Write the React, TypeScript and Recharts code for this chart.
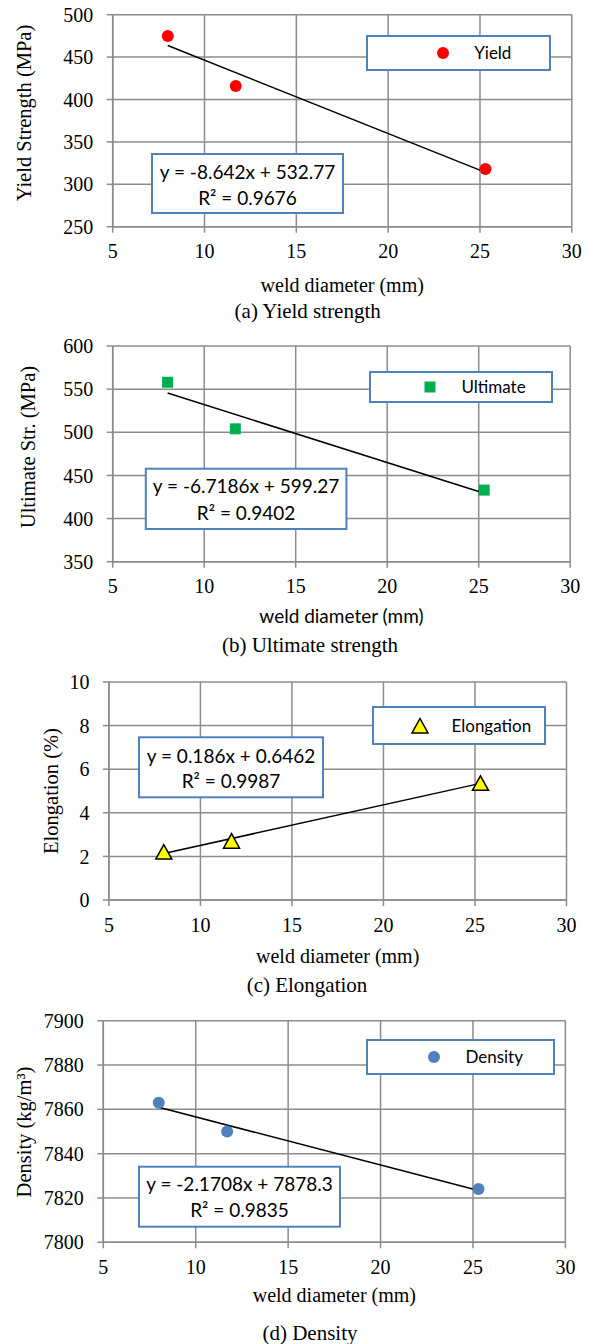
import React from 'react';
import { ScatterChart, Scatter, XAxis, YAxis, CartesianGrid, ReferenceLine, Legend } from 'recharts';

// weld diameter of the three specimens (mm)
const diameter = [8, 11.7, 25.3];
const yieldStrength = [475, 416, 318];
const ultimateStrength = [558, 504, 433];
const elongation = [2.2, 2.7, 5.35];
const density = [7863, 7850, 7824];

// linear trend line, end points
const trendDiameter = [8, 25.3];
const yieldTrend = [463.6, 314.1];
const ultimateTrend = [545.5, 429.3];
const elongationTrend = [2.13, 5.35];
const densityTrend = [7860.9, 7823.4];

const diameterTicks = [5, 10, 15, 20, 25, 30];
const yieldTicks = [250, 300, 350, 400, 450, 500];
const ultimateTicks = [350, 400, 450, 500, 550, 600];
const elongationTicks = [0, 2, 4, 6, 8, 10];
const densityTicks = [7800, 7820, 7840, 7860, 7880, 7900];

const yieldEq = ['y = -8.642x + 532.77', 'R² = 0.9676'];
const ultimateEq = ['y = -6.7186x + 599.27', 'R² = 0.9402'];
const elongationEq = ['y = 0.186x + 0.6462', 'R² = 0.9987'];
const densityEq = ['y = -2.1708x + 7878.3', 'R² = 0.9835'];

const SERIF = '"Liberation Serif", "Times New Roman", serif';
const SANS = 'Lato, "Open Sans", sans-serif';
const GRID = '#8c8c8c';
const BOX = '#4f81bd';
const Y_W = 70;
const X_H = 40;

const panels = [
  {
    name: 'Yield', values: yieldStrength, trend: yieldTrend, ticks: yieldTicks, eq: yieldEq,
    yTitle: 'Yield Strength (MPa)', caption: '(a) Yield strength', marker: 'circle', color: '#ff0000',
    layout: {
      top: 0, height: 326, plot: [112.7, 14.7, 571.8, 226.7], yTitleAt: [24, 113],
      xTitleBase: 291.7, xTitleSans: false, captionAt: [307.7, 318.3],
      legend: [365.7, 35, 551, 70.7], markerDx: 77, eqBox: [152, 154, 343, 213], eqBase: [179.3, 205],
    },
  },
  {
    name: 'Ultimate', values: ultimateStrength, trend: ultimateTrend, ticks: ultimateTicks, eq: ultimateEq,
    yTitle: 'Ultimate Str. (MPa)', caption: '(b) Ultimate strength', marker: 'square', color: '#00b050',
    layout: {
      top: 330, height: 330, plot: [112.7, 346, 570.2, 561.7], yTitleAt: [28, 447],
      xTitleBase: 623.3, xTitleSans: true, captionAt: [310, 651.7],
      legend: [368.9, 370.7, 553.3, 402.7], markerDx: 61.1, eqBox: [145.8, 468.7, 346.4, 529], eqBase: [493, 519.6],
    },
  },
  {
    name: 'Elongation', values: elongation, trend: elongationTrend, ticks: elongationTicks, eq: elongationEq,
    yTitle: 'Elongation (%)', caption: '(c) Elongation', marker: 'triangle', color: '#ffff00',
    layout: {
      top: 665, height: 335, plot: [108.9, 682, 566.5, 900], yTitleAt: [50.7, 791],
      xTitleBase: 962.7, xTitleSans: false, captionAt: [307, 991.7],
      legend: [371.9, 706, 545.8, 745], markerDx: 48.1, eqBox: [139, 737.3, 323, 797.3], eqBase: [763, 788],
    },
  },
  {
    name: 'Density', values: density, trend: densityTrend, ticks: densityTicks, eq: densityEq,
    yTitle: 'Density (kg/m³)', caption: '(d) Density', marker: 'circle', color: '#4f81bd',
    layout: {
      top: 1005, height: 339, plot: [103.3, 1020.7, 565.4, 1242.3], yTitleAt: [24.4, 1132],
      xTitleBase: 1301.7, xTitleSans: false, captionAt: [310, 1340],
      legend: [366.3, 1039.3, 554.9, 1075.3], markerDx: 67.6, eqBox: [139, 1166.7, 340, 1226.7], eqBase: [1191.3, 1217],
    },
  },
];

const Marker = ({ kind, color, cx, cy }: any) => {
  if (kind === 'square') return <rect x={cx - 5.5} y={cy - 5.5} width={11} height={11} fill={color} />;
  if (kind === 'triangle')
    return (
      <polygon
        points={`${cx},${cy - 7.5} ${cx + 8},${cy + 7} ${cx - 8},${cy + 7}`}
        fill={color}
        stroke="#000"
        strokeWidth={1.5}
      />
    );
  return <circle cx={cx} cy={cy} r={6} fill={color} />;
};

const LegendBox = ({ payload, kind, w, h, markerDx }: any) => {
  const entry = payload && payload[0];
  if (!entry) return null;
  return (
    <div style={{ boxSizing: 'border-box', width: w, height: h, border: `2px solid ${BOX}`, background: '#fff', position: 'relative' }}>
      <svg width={20} height={20} style={{ position: 'absolute', left: markerDx - 12, top: h / 2 - 12 }}>
        <Marker kind={kind} color={entry.color} cx={10} cy={10} />
      </svg>
      <span
        style={{
          position: 'absolute', left: markerDx + 29.5, top: 0, lineHeight: `${h - 4}px`,
          fontFamily: SANS, fontSize: 17, color: '#000', whiteSpace: 'nowrap',
        }}
      >
        {entry.value}
      </span>
    </div>
  );
};

function Panel({ p }: any) {
  const { top, height, plot, yTitleAt, xTitleBase, xTitleSans, captionAt, legend, markerDx, eqBox, eqBase } = p.layout;
  const [L, T, R, B] = plot;
  const data = diameter.map((x, i) => ({ x, y: p.values[i] }));
  const segment = trendDiameter.map((x, i) => ({ x, y: p.trend[i] }));
  const margin = { top: T - top, left: L - Y_W, right: 589 - R, bottom: height - (B - top) - X_H };
  const [lx0, ly0, lx1, ly1] = legend;
  const [ex0, ey0, ex1, ey1] = eqBox;
  const ex = (ex0 + ex1) / 2;

  return (
    <div style={{ position: 'absolute', left: 0, top }}>
      <ScatterChart width={589} height={height} margin={margin}>
        <CartesianGrid stroke={GRID} strokeWidth={1.5} />
        <XAxis
          type="number"
          dataKey="x"
          domain={[5, 30]}
          ticks={diameterTicks}
          interval={0}
          height={X_H}
          stroke={GRID}
          strokeWidth={1.5}
          tickSize={6}
          tickMargin={11.5}
          tick={{ fill: '#000', fontSize: 20, fontFamily: SERIF }}
          label={{
            content: () => (
              <g>
                <text
                  x={(L + R) / 2}
                  y={xTitleBase - top}
                  textAnchor="middle"
                  fontFamily={xTitleSans ? SANS : SERIF}
                  fontSize={xTitleSans ? 19 : 20}
                  fill="#000"
                >
                  weld diameter (mm)
                </text>
                <text x={captionAt[0]} y={captionAt[1] - top} textAnchor="middle" fontFamily={SERIF} fontSize={21} fill="#000">
                  {p.caption}
                </text>
              </g>
            ),
          }}
        />
        <YAxis
          type="number"
          dataKey="y"
          domain={[p.ticks[0], p.ticks[p.ticks.length - 1]]}
          ticks={p.ticks}
          interval={0}
          width={Y_W}
          stroke={GRID}
          strokeWidth={1.5}
          tickSize={6}
          tickMargin={13.5}
          tick={{ fill: '#000', fontSize: 20, fontFamily: SERIF }}
          label={{
            content: () => (
              <text
                x={yTitleAt[0]}
                y={yTitleAt[1] - top}
                transform={`rotate(-90 ${yTitleAt[0]} ${yTitleAt[1] - top})`}
                textAnchor="middle"
                dominantBaseline="central"
                fontFamily={SERIF}
                fontSize={20.5}
                fill="#000"
              >
                {p.yTitle}
              </text>
            ),
          }}
        />
        <ReferenceLine
          segment={segment}
          stroke="#000"
          strokeWidth={1.5}
          label={{
            content: () => (
              <g>
                <rect x={ex0} y={ey0 - top} width={ex1 - ex0} height={ey1 - ey0} fill="#fff" stroke={BOX} strokeWidth={2} />
                <text x={ex} y={eqBase[0] - top} textAnchor="middle" fontFamily={SANS} fontSize={19} fill="#000">
                  {p.eq[0]}
                </text>
                <text x={ex} y={eqBase[1] - top} textAnchor="middle" fontFamily={SANS} fontSize={19} fill="#000">
                  {p.eq[1]}
                </text>
              </g>
            ),
          }}
        />
        <Scatter
          name={p.name}
          data={data}
          fill={p.color}
          isAnimationActive={false}
          shape={(s: any) => <Marker kind={p.marker} color={p.color} cx={s.cx} cy={s.cy} />}
        />
        <Legend
          layout="horizontal"
          verticalAlign="middle"
          align="center"
          wrapperStyle={{ left: lx0, top: ly0 - top, width: lx1 - lx0, height: ly1 - ly0 }}
          content={(props: any) => (
            <LegendBox payload={props.payload} kind={p.marker} w={lx1 - lx0} h={ly1 - ly0} markerDx={markerDx} />
          )}
        />
      </ScatterChart>
    </div>
  );
}

export default function App() {
  return (
    <div style={{ position: 'absolute', left: 0, top: 0, width: 589, height: 1344, background: '#fff', overflow: 'hidden' }}>
      {panels.map((p) => (
        <Panel key={p.name} p={p} />
      ))}
    </div>
  );
}
